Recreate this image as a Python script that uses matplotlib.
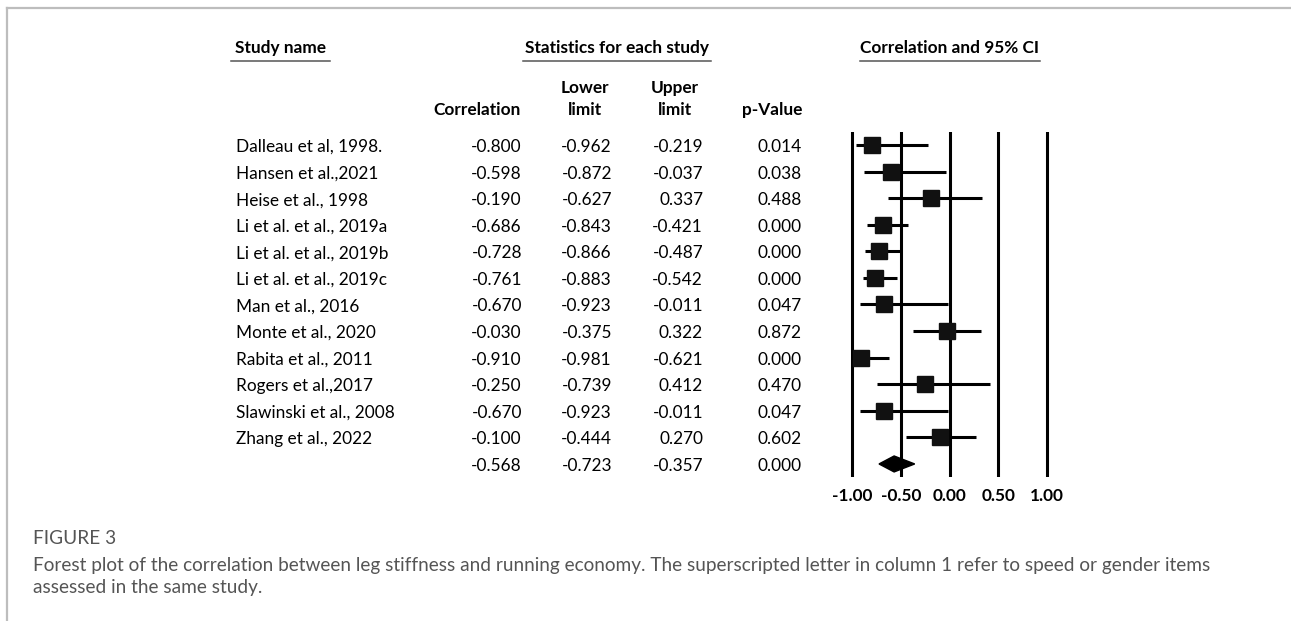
import matplotlib
matplotlib.use('Agg')
import matplotlib.pyplot as plt
import matplotlib.transforms as transforms
from matplotlib.lines import Line2D

studies = ['Dalleau et al, 1998.', 'Hansen et al.,2021', 'Heise et al., 1998',
           'Li et al. et al., 2019a', 'Li et al. et al., 2019b', 'Li et al. et al., 2019c',
           'Man et al., 2016', 'Monte et al., 2020', 'Rabita et al., 2011',
           'Rogers et al.,2017', 'Slawinski et al., 2008', 'Zhang et al., 2022']
corr = [-0.800, -0.598, -0.190, -0.686, -0.728, -0.761, -0.670, -0.030, -0.910, -0.250, -0.670, -0.100]
lower = [-0.962, -0.872, -0.627, -0.843, -0.866, -0.883, -0.923, -0.375, -0.981, -0.739, -0.923, -0.444]
upper = [-0.219, -0.037, 0.337, -0.421, -0.487, -0.542, -0.011, 0.322, -0.621, 0.412, -0.011, 0.270]
pvals = [0.014, 0.038, 0.488, 0.000, 0.000, 0.000, 0.047, 0.872, 0.000, 0.470, 0.047, 0.602]
pooled = [-0.568, -0.723, -0.357, 0.000]  # corr, lower, upper, p
xticks = [-1.0, -0.5, 0.0, 0.5, 1.0]

W, H = 1291, 621
FONT = ['Lato', 'DejaVu Sans']
fs = 12.4
fsb = 12.4

fig = plt.figure(figsize=(W / 100, H / 100), dpi=100)


def fx(p):
    return p / W


def fy(p):
    return 1 - p / H


# forest plot axes: -1 at x=852px, 1 at 1047px, rows from 145px every 26.58px
n = len(studies) + 1
unit = 97.5
left = 852 - 0.05 * unit
top = 145 - 26.58 / 2
ax = fig.add_axes([fx(left), fy(top + 26.58 * n), fx(2.1 * unit), 26.58 * n / H])
ax.set_xlim(-1.05, 1.05)
ax.set_ylim(n - 0.5, -0.5)
for s in ax.spines.values():
    s.set_visible(False)
ax.set_yticks([])
ax.set_xticks(xticks)
ax.set_xticklabels(['%.2f' % t for t in xticks], fontsize=fsb, fontweight='bold', family=FONT)
ax.tick_params(axis='x', length=0, pad=8)
for t in xticks:
    ax.axvline(t, color='black', lw=2.2, zorder=1)

rows = list(range(len(studies)))
ax.hlines(rows, lower, upper, color='black', lw=2.2, zorder=2)
ax.plot(corr, rows, 's', color='#111111', markersize=11.5, zorder=3)
pr = len(studies)
ax.fill([pooled[1], pooled[0], pooled[2], pooled[0]],
        [pr, pr - 0.3, pr, pr + 0.3], color='black', zorder=3)

# table text
tr = transforms.blended_transform_factory(fig.transFigure, ax.transData)
tr = tr + transforms.ScaledTranslation(0, -2 / 100, fig.dpi_scale_trans)
txt = dict(fontsize=fs, family=FONT, color='black', va='center', transform=tr)
all_rows = studies + ['']
all_corr = corr + [pooled[0]]
all_low = lower + [pooled[1]]
all_up = upper + [pooled[2]]
all_p = pvals + [pooled[3]]
for i in range(n):
    ax.text(fx(236), i, all_rows[i], ha='left', **txt)
    ax.text(fx(522), i, '%.3f' % all_corr[i], ha='right', **txt)
    ax.text(fx(612), i, '%.3f' % all_low[i], ha='right', **txt)
    ax.text(fx(703), i, '%.3f' % all_up[i], ha='right', **txt)
    ax.text(fx(802), i, '%.3f' % all_p[i], ha='right', **txt)

# headers
hd = dict(fontsize=fsb, family=FONT, fontweight='bold', va='center')
fig.text(fx(235), fy(48), 'Study name', ha='left', **hd)
fig.text(fx(617), fy(48), 'Statistics for each study', ha='center', **hd)
fig.text(fx(950), fy(48), 'Correlation and 95% CI', ha='center', **hd)
for x0, x1 in [(231, 330), (523, 711), (860, 1040)]:
    fig.add_artist(Line2D([fx(x0), fx(x1)], [fy(61), fy(61)], color='#555555', lw=1.1))

fig.text(fx(521), fy(110), 'Correlation', ha='right', **hd)
fig.text(fx(585), fy(88), 'Lower', ha='center', **hd)
fig.text(fx(585), fy(110), 'limit', ha='center', **hd)
fig.text(fx(675), fy(88), 'Upper', ha='center', **hd)
fig.text(fx(675), fy(110), 'limit', ha='center', **hd)
fig.text(fx(802), fy(110), 'p-Value', ha='right', **hd)

# frame lines
fig.add_artist(Line2D([fx(7), 1], [fy(8), fy(8)], color='#bdbdbd', lw=1.6))
fig.add_artist(Line2D([fx(7), fx(7)], [fy(8), 0], color='#bdbdbd', lw=1.6))

# caption
cap = dict(fontsize=13.7, family=['Lato', 'DejaVu Sans'], fontweight='normal', color='#555555', va='center', ha='left')
fig.text(fx(33), fy(539), 'FIGURE 3', **cap)
fig.text(fx(33), fy(565), 'Forest plot of the correlation between leg stiffness and running economy. '
         'The superscripted letter in column 1 refer to speed or gender items', **cap)
fig.text(fx(33), fy(588), 'assessed in the same study.', **cap)

fig.savefig('out.png', dpi=100)
